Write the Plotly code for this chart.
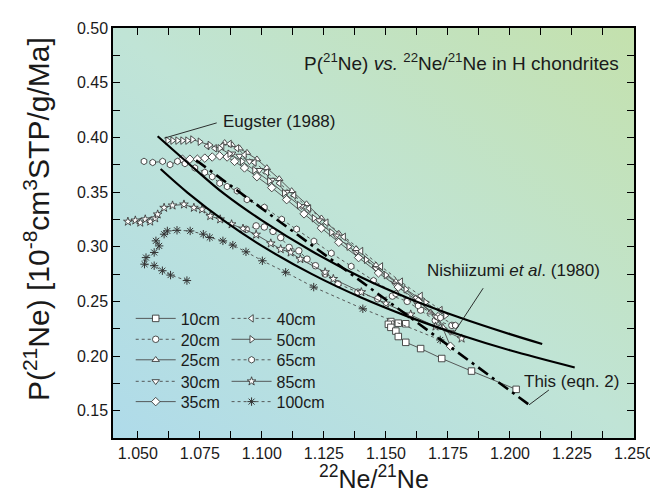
import base64
import plotly.graph_objects as go

# ---------------- data ----------------
X_10CM = [1.158, 1.155, 1.152, 1.151, 1.152, 1.154, 1.155, 1.158, 1.164, 1.1725, 1.1845, 1.2025]
Y_10CM = [0.2295, 0.2300, 0.2315, 0.2290, 0.2262, 0.2228, 0.2178, 0.2125, 0.2068, 0.1977, 0.1862, 0.1695]

X_20CM = [1.0937, 1.0977, 1.101, 1.1045, 1.1076, 1.111, 1.1149, 1.1182, 1.1216, 1.1255, 1.1307, 1.1387, 1.1467, 1.1526, 1.1586, 1.1640, 1.1699, 1.1766]
Y_20CM = [0.3159, 0.3190, 0.3180, 0.3140, 0.3083, 0.2993, 0.2962, 0.2886, 0.2826, 0.2750, 0.2660, 0.2584, 0.2523, 0.2548, 0.2500, 0.2420, 0.2325, 0.2280]

X_25CM = [1.085, 1.088, 1.091, 1.094, 1.098, 1.102, 1.107, 1.112, 1.118, 1.124, 1.131, 1.138, 1.146, 1.154, 1.162, 1.168, 1.173]
Y_25CM = [0.395, 0.393, 0.390, 0.386, 0.380, 0.372, 0.362, 0.351, 0.339, 0.326, 0.312, 0.298, 0.283, 0.268, 0.253, 0.240, 0.226]

X_30CM = [1.088, 1.091, 1.095, 1.099, 1.104, 1.110, 1.116, 1.123, 1.130, 1.138, 1.146, 1.154, 1.162, 1.170, 1.176]
Y_30CM = [0.385, 0.383, 0.378, 0.370, 0.361, 0.350, 0.337, 0.324, 0.310, 0.295, 0.280, 0.265, 0.250, 0.236, 0.222]

X_35CM = [1.068, 1.071, 1.074, 1.077, 1.080, 1.083, 1.086, 1.089, 1.093, 1.098, 1.104, 1.110, 1.117, 1.124, 1.131, 1.139, 1.147, 1.155, 1.163, 1.171, 1.176]
Y_35CM = [0.380, 0.380, 0.380, 0.381, 0.382, 0.383, 0.382, 0.378, 0.372, 0.364, 0.354, 0.343, 0.330, 0.317, 0.304, 0.290, 0.276, 0.263, 0.250, 0.236, 0.209]

X_40CM = [1.078, 1.081, 1.084, 1.087, 1.090, 1.093, 1.097, 1.102, 1.107, 1.113, 1.119, 1.126, 1.133, 1.140, 1.148, 1.156, 1.164, 1.172]
Y_40CM = [0.392, 0.390, 0.392, 0.394, 0.390, 0.384, 0.377, 0.368, 0.358, 0.347, 0.335, 0.322, 0.309, 0.296, 0.282, 0.268, 0.255, 0.242]

X_50CM = [1.062, 1.064, 1.066, 1.068, 1.070, 1.072, 1.075, 1.079, 1.083, 1.087, 1.092, 1.097, 1.103, 1.109, 1.115, 1.121, 1.128, 1.135, 1.142, 1.150, 1.158, 1.166, 1.174]
Y_50CM = [0.397, 0.397, 0.397, 0.397, 0.397, 0.398, 0.396, 0.393, 0.390, 0.385, 0.378, 0.370, 0.360, 0.349, 0.338, 0.326, 0.313, 0.300, 0.288, 0.274, 0.261, 0.249, 0.237]

X_65CM = [1.0525, 1.056, 1.060, 1.063, 1.066, 1.069, 1.073, 1.077, 1.080, 1.083, 1.086, 1.090, 1.094, 1.101, 1.108, 1.114, 1.121, 1.128, 1.136, 1.145, 1.154, 1.163, 1.172, 1.178]
Y_65CM = [0.378, 0.377, 0.378, 0.375, 0.378, 0.376, 0.372, 0.368, 0.364, 0.358, 0.355, 0.351, 0.343, 0.336, 0.325, 0.316, 0.305, 0.294, 0.282, 0.269, 0.257, 0.246, 0.235, 0.228]

X_85CM = [1.046, 1.049, 1.051, 1.053, 1.055, 1.057, 1.058, 1.0606, 1.064, 1.0686, 1.0726, 1.0759, 1.0792, 1.0832, 1.0878, 1.0924, 1.0977, 1.1036, 1.1076, 1.1116, 1.1155, 1.1255, 1.1288, 1.1401, 1.150, 1.160, 1.170, 1.1805]
Y_85CM = [0.3229, 0.3240, 0.3220, 0.3250, 0.3230, 0.3260, 0.3295, 0.3356, 0.3377, 0.3386, 0.3356, 0.3341, 0.3280, 0.3250, 0.3205, 0.3165, 0.3110, 0.3030, 0.2977, 0.2947, 0.2886, 0.2766, 0.2705, 0.2584, 0.2480, 0.2380, 0.2270, 0.2160]

X_100CM = [1.0698, 1.0632, 1.0599, 1.0566, 1.0527, 1.0533, 1.0566, 1.0586, 1.0573, 1.0606, 1.0619, 1.0658, 1.0711, 1.0764, 1.079, 1.0843, 1.0883, 1.0936, 1.1002, 1.1096, 1.1209, 1.1407, 1.1719]
Y_100CM = [0.2690, 0.2740, 0.2780, 0.2826, 0.2840, 0.2900, 0.2947, 0.3007, 0.3053, 0.3114, 0.3144, 0.3150, 0.3144, 0.3114, 0.3084, 0.3053, 0.3014, 0.2953, 0.2871, 0.2766, 0.2630, 0.2432, 0.2147]

# model curves
X_EUGSTER = [1.058, 1.070, 1.085, 1.100, 1.120, 1.140, 1.160, 1.180, 1.200, 1.213]
Y_EUGSTER = [0.401, 0.377, 0.348, 0.324, 0.296, 0.272, 0.252, 0.235, 0.220, 0.211]

X_NISHIIZUMI = [1.0592, 1.070, 1.085, 1.100, 1.120, 1.140, 1.160, 1.180, 1.200, 1.2261]
Y_NISHIIZUMI = [0.371, 0.3495, 0.3233, 0.3007, 0.2751, 0.2535, 0.2351, 0.2192, 0.2052, 0.1895]

X_THIS = [1.0735, 1.2078]
Y_THIS = [0.3790, 0.1553]

SERIES_NAMES = ["10cm", "20cm", "25cm", "30cm", "35cm", "40cm", "50cm", "65cm", "85cm", "100cm"]
SERIES_X = [X_10CM, X_20CM, X_25CM, X_30CM, X_35CM, X_40CM, X_50CM, X_65CM, X_85CM, X_100CM]
SERIES_Y = [Y_10CM, Y_20CM, Y_25CM, Y_30CM, Y_35CM, Y_40CM, Y_50CM, Y_65CM, Y_85CM, Y_100CM]

X_TICKS = [1.050, 1.075, 1.100, 1.125, 1.150, 1.175, 1.200, 1.225, 1.250]
Y_TICKS = [0.15, 0.20, 0.25, 0.30, 0.35, 0.40, 0.45, 0.50]

# ---------------- styles ----------------
SYMBOLS = ["square", "circle", "triangle-up", "triangle-down", "diamond",
           "triangle-left", "triangle-right", "hexagon", "star", "asterisk-open"]
DASHES = ["solid", "dot", "solid", "dot", "solid", "dot", "solid", "dot", "solid", "dot"]

FONT = "Liberation Sans, Arial, sans-serif"
INK = "#1a1a1a"
GRAY = "#4a4a4a"

# legend grid (two columns of five rows), paper coordinates
LEG_COL_X = [0.034, 0.218]
LEG_ROW_Y = [0.2915, 0.2405, 0.1905, 0.138, 0.0885]

fig = go.Figure()

legend_layouts = {}
for i, (name, xs, ys, sym, dash) in enumerate(zip(SERIES_NAMES, SERIES_X, SERIES_Y, SYMBOLS, DASHES)):
    if sym == "asterisk-open":
        marker = dict(symbol=sym, size=7, color="#333333", line=dict(width=1, color="#333333"))
    else:
        marker = dict(symbol=sym, size=6.5, color="white", line=dict(width=0.9, color="#3a3a3a"))
    lg = "legend" if i == 0 else f"legend{i + 1}"
    fig.add_trace(go.Scatter(
        x=xs, y=ys, mode="lines+markers", name=name, legend=lg,
        line=dict(color=GRAY, width=0.9, dash=dash),
        marker=marker, hoverinfo="skip",
    ))
    legend_layouts[lg] = dict(x=LEG_COL_X[i // 5], y=LEG_ROW_Y[i % 5], xanchor="left", yanchor="middle",
                              bgcolor="rgba(0,0,0,0)", font=dict(size=16, family=FONT, color=INK),
                              itemwidth=40, tracegroupgap=0)

fig.add_trace(go.Scatter(x=X_EUGSTER, y=Y_EUGSTER, mode="lines", line=dict(color="black", width=2.2, shape="spline"),
                         showlegend=False, hoverinfo="skip"))
fig.add_trace(go.Scatter(x=X_NISHIIZUMI, y=Y_NISHIIZUMI, mode="lines", line=dict(color="black", width=2.2, shape="spline"),
                         showlegend=False, hoverinfo="skip"))
fig.add_trace(go.Scatter(x=X_THIS, y=Y_THIS, mode="lines", line=dict(color="black", width=2.6, dash="12px,5px,3px,5px"),
                         showlegend=False, hoverinfo="skip"))

# gradient background
svg = ('<svg xmlns="http://www.w3.org/2000/svg" width="200" height="200" viewBox="0 0 200 200" preserveAspectRatio="none">'
       '<defs><linearGradient id="g" x1="0" y1="1" x2="1" y2="0">'
       '<stop offset="0" stop-color="#afdbea"/>'
       '<stop offset="0.5" stop-color="#c0e4d6"/>'
       '<stop offset="1" stop-color="#c4e1ad"/>'
       '</linearGradient></defs><rect width="200" height="200" fill="url(#g)"/></svg>')
src = "data:image/svg+xml;base64," + base64.b64encode(svg.encode()).decode()

fig.update_layout(
    width=658, height=494,
    margin=dict(l=105, r=25, t=17, b=64),
    paper_bgcolor="white", plot_bgcolor="rgba(0,0,0,0)",
    font=dict(family=FONT, color=INK, size=16),
    images=[dict(source=src, xref="paper", yref="paper", x=0, y=1, sizex=1, sizey=1,
                 sizing="stretch", layer="below", xanchor="left", yanchor="top")],
    showlegend=True,
    **legend_layouts,
)

axis_common = dict(showline=True, linecolor="black", linewidth=1.5, mirror="allticks",
                   ticks="inside", ticklen=7, tickwidth=1.2, tickcolor="black",
                   showgrid=False, zeroline=False,
                   tickfont=dict(size=16, family=FONT, color=INK))

fig.update_xaxes(range=[1.040, 1.250], tickvals=X_TICKS, ticktext=[f"{v:.3f}" for v in X_TICKS],
                 minor=dict(dtick=0.0125, tick0=1.05, ticks="inside", ticklen=7, tickwidth=1.2, tickcolor="black"),
                 **axis_common)
fig.update_yaxes(range=[0.125, 0.50], tickvals=Y_TICKS, ticktext=[f"{v:.2f}" for v in Y_TICKS],
                 minor=dict(dtick=0.025, tick0=0.15, ticks="inside", ticklen=7, tickwidth=1.2, tickcolor="black"),
                 **axis_common)

# axis titles
fig.add_annotation(text="<sup>22</sup>Ne/<sup>21</sup>Ne", xref="paper", yref="paper", x=0.5, y=-0.096,
                   xanchor="center", yanchor="middle", showarrow=False,
                   font=dict(size=25, family=FONT, color=INK))
fig.add_annotation(text="P(<sup>21</sup>Ne) [10<sup>-8</sup>cm<sup>3</sup>STP/g/Ma]", xref="paper", yref="paper",
                   x=-0.147, y=0.535, xanchor="center", yanchor="middle", textangle=-90, showarrow=False,
                   font=dict(size=30, family=FONT, color=INK))

ANN_FONT = dict(size=17, family=FONT, color=INK)
fig.add_annotation(text="P(<sup>21</sup>Ne) <i>vs.</i> <sup>22</sup>Ne/<sup>21</sup>Ne in H chondrites",
                   xref="paper", yref="paper", x=0.975, y=0.916, xanchor="right", yanchor="middle",
                   showarrow=False, font=dict(size=19, family=FONT, color=INK))
fig.add_annotation(text="Eugster (1988)", x=1.0837, y=0.4144, xanchor="left", yanchor="middle",
                   showarrow=False, font=ANN_FONT)
fig.add_annotation(text="Nishiizumi <i>et al</i>. (1980)", x=1.2015, y=0.278, xanchor="center", yanchor="middle",
                   showarrow=False, font=ANN_FONT)
fig.add_annotation(text="This (eqn. 2)", x=1.2249, y=0.1765, xanchor="center", yanchor="middle",
                   showarrow=False, font=ANN_FONT)

LEADERS = [((1.0818, 0.4132), (1.0607, 0.3993)),
           ((1.1892, 0.2620), (1.1772, 0.2205)),
           ((1.2157, 0.1689), (1.2077, 0.1553))]
for (x0, y0), (x1, y1) in LEADERS:
    fig.add_shape(type="line", x0=x0, y0=y0, x1=x1, y1=y1, xref="x", yref="y",
                  line=dict(color=INK, width=0.9))

fig.write_html("out.html")
